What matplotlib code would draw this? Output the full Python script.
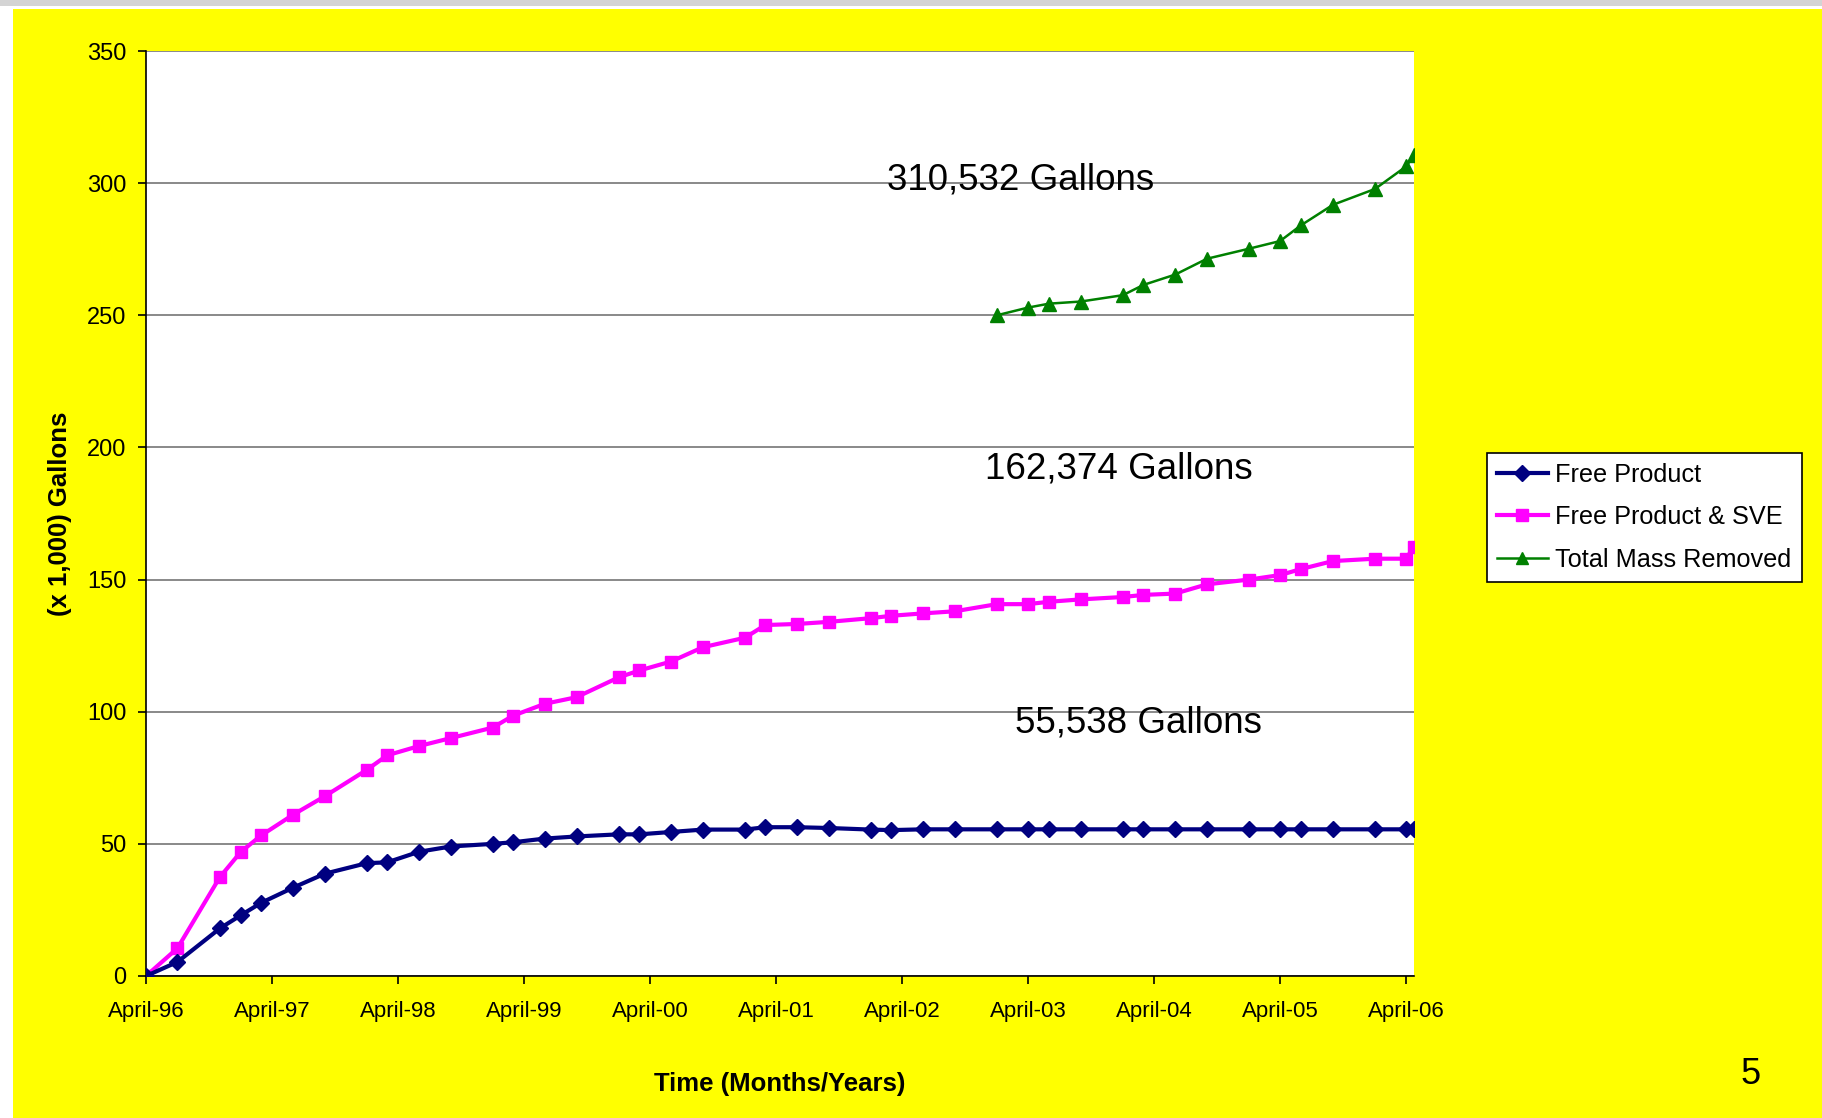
import pandas as pd
import matplotlib.pyplot as plt
import matplotlib.dates as mdates
from matplotlib.patches import Rectangle

plt.rcParams['font.family'] = ['Liberation Sans', 'DejaVu Sans']

# sampling dates (shared by all three series)
dates = pd.to_datetime([
    "1996-04-01", "1996-07-01", "1996-11-01",
    "1997-01-01", "1997-03-01", "1997-06-01", "1997-09-01",
    "1998-01-01", "1998-03-01", "1998-06-01", "1998-09-01",
    "1999-01-01", "1999-03-01", "1999-06-01", "1999-09-01",
    "2000-01-01", "2000-03-01", "2000-06-01", "2000-09-01",
    "2001-01-01", "2001-03-01", "2001-06-01", "2001-09-01",
    "2002-01-01", "2002-03-01", "2002-06-01", "2002-09-01",
    "2003-01-01", "2003-04-01", "2003-06-01", "2003-09-01",
    "2004-01-01", "2004-03-01", "2004-06-01", "2004-09-01",
    "2005-01-01", "2005-04-01", "2005-06-01", "2005-09-01",
    "2006-01-01", "2006-04-01", "2006-04-24",
])

# cumulative volumes, thousands of gallons
free_product = [
    0, 5.3, 18, 23, 27.7, 33.4, 38.7, 42.7, 43, 47,
    49, 50, 50.6, 52, 52.8, 53.6, 53.6, 54.5, 55.4, 55.4,
    56.3, 56.3, 56, 55.4, 55.2, 55.5, 55.5, 55.5, 55.5, 55.5,
    55.5, 55.5, 55.5, 55.5, 55.5, 55.5, 55.5, 55.5, 55.5, 55.5,
    55.5, 55.538,
]
free_product_sve = [
    0, 10.5, 37.4, 47, 53.2, 61, 68, 78, 83.5, 87,
    90, 94, 98.5, 103, 105.5, 113, 115.6, 119, 124.4, 128,
    132.8, 133.2, 134, 135.4, 136.3, 137.2, 138, 140.7, 140.7, 141.6,
    142.5, 143.4, 144.2, 144.7, 148.2, 150, 151.7, 154, 157, 157.9,
    157.9, 162.374,
]
# total mass removed only tracked from Jan 2003 onwards
total_start = 27
total_mass = [
    250, 252.9, 254.4, 255.2, 257.6, 261.5, 265.4, 271.4, 275.2, 278.1,
    284.1, 291.8, 297.8, 306.3, 310.532,
]

series_labels = ["Free Product", "Free Product & SVE", "Total Mass Removed"]
totals_text = ["55,538 Gallons", "162,374 Gallons", "310,532 Gallons"]

W, H = 1822, 1118
fig = plt.figure(figsize=(W / 100, H / 100), dpi=100, facecolor="white")

# slide background: thin grey strip on top, yellow panel
fig.patches.append(Rectangle((0, 1 - 6 / H), 1, 6 / H, transform=fig.transFigure,
                             facecolor="#d4d4d4", edgecolor="none", zorder=-2))
fig.patches.append(Rectangle((13 / W, 0), 1, 1 - 9 / H, transform=fig.transFigure,
                             facecolor="#ffff00", edgecolor="none", zorder=-1))

ax = fig.add_axes([146 / W, 1 - 976 / H, (1414 - 146) / W, (976 - 51) / H])
ax.set_facecolor("white")

ax.plot(dates, free_product, color="#000080", lw=3, marker="D", ms=8.5,
        label=series_labels[0], zorder=4)
ax.plot(dates, free_product_sve, color="#ff00ff", lw=3, marker="s", ms=9,
        label=series_labels[1], zorder=3)
ax.plot(dates[total_start:], total_mass, color="#008000", lw=1.8, marker="^", ms=10,
        label=series_labels[2], zorder=3)

ax.set_xlim(dates[0], dates[-1])
ax.set_ylim(0, 350)
ax.set_yticks(range(0, 351, 50))
ax.xaxis.set_major_locator(mdates.MonthLocator(bymonth=4, bymonthday=1))
ax.xaxis.set_major_formatter(mdates.DateFormatter("April-%y"))

ax.grid(axis="y", color="#808080", lw=1.3)
ax.set_axisbelow(True)
for side in ["top", "right"]:
    ax.spines[side].set_visible(False)
for side in ["left", "bottom"]:
    ax.spines[side].set_color("black")
    ax.spines[side].set_linewidth(1.2)

ax.tick_params(axis="y", direction="out", length=6, width=1.2, pad=8, labelsize=17)
ax.tick_params(axis="x", direction="out", length=6, width=1.2, pad=12, labelsize=16)

ax.set_ylabel("(x 1,000) Gallons", fontsize=18.5, fontweight="bold", labelpad=11)
ax.set_xlabel("Time (Months/Years)", fontsize=18.5, fontweight="bold", labelpad=36)

# end-of-period totals
ax.text(0.690, 0.860, totals_text[2], transform=ax.transAxes, fontsize=26.5,
        ha="center", va="center")
ax.text(0.767, 0.548, totals_text[1], transform=ax.transAxes, fontsize=26.5,
        ha="center", va="center")
ax.text(0.783, 0.273, totals_text[0], transform=ax.transAxes, fontsize=26.5,
        ha="center", va="center")

leg = fig.legend(loc="upper left", bbox_to_anchor=(1487 / W, 1 - 453 / H),
                 borderaxespad=0, fontsize=18.2, frameon=True, fancybox=False,
                 edgecolor="black", facecolor="white", framealpha=1,
                 handlelength=2.0, labelspacing=0.72, borderpad=0.4,
                 handletextpad=0.3, markerscale=0.9)
leg.get_frame().set_linewidth(1.2)

fig.text(1751 / W, 1 - 1074 / H, "5", fontsize=26, ha="center", va="center")

fig.savefig("out.png", dpi=100, facecolor=fig.get_facecolor())
